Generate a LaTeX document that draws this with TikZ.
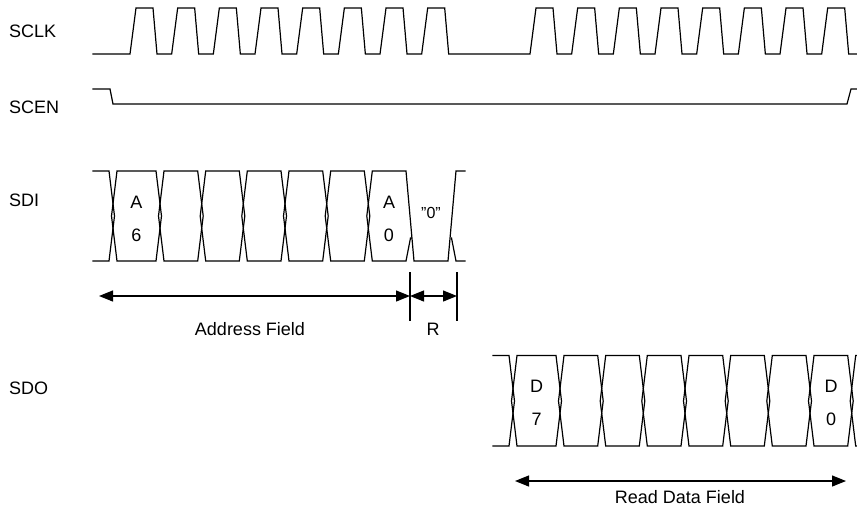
\documentclass[tikz,border=0pt]{standalone}
\usepackage{fontspec}
\setmainfont{Liberation Sans}
\usetikzlibrary{arrows.meta}
\tikzstyle{wave}     = [line width=1.2pt, line join=miter, line cap=rect]
\tikzstyle{signame}  = [anchor=west, inner sep=0pt, font=\fontsize{18}{20}\selectfont]
\tikzstyle{celltext} = [align=center, inner sep=0pt, font=\fontsize{18}{33}\selectfont]
\tikzstyle{fieldtxt} = [inner sep=0pt, font=\fontsize{18}{20}\selectfont]
\tikzstyle{dimarrow} = [{Stealth[length=14pt,width=11pt,inset=0pt]}-{Stealth[length=14pt,width=11pt,inset=0pt]}, line width=1.2pt]

\begin{document}
\begin{tikzpicture}[x=1pt, y=-1pt]
  \useasboundingbox (0,0) rectangle (857,512);

  % signal names
  \node (sclk) [signame] at (9,31)  {SCLK};
  \node (scen) [signame] at (9,107) {SCEN};
  \node (sdi)  [signame] at (9,200) {SDI};
  \node (sdo)  [signame] at (9,388) {SDO};

  % SCLK, two bursts of 8
  \draw [wave] (93,54)
    foreach \k in {0,...,7} { -- ({130+41.67*\k},54) -- ({136+41.67*\k},8) -- ({153+41.67*\k},8) -- ({157+41.67*\k},54) }
    -- (530,54)
    foreach \k in {0,...,7} { -- ({530+41.67*\k},54) -- ({536+41.67*\k},8) -- ({553+41.67*\k},8) -- ({557+41.67*\k},54) }
    -- (857,54);

  % SCEN
  \draw [wave] (93,89) -- (110,89) -- (113,104) -- (847,104) -- (851,89) -- (857,89);

  % SDI
  \draw [wave] (93,171) -- (109,171) -- (114.5,216) -- (109,261) -- (93,261);
  \foreach \a/\b in {113/160, 160/201.7, 201.7/243.3, 243.3/285, 285/326.7, 326.7/368.3}
    \draw [wave] (\a+4,171) -- (\b-4,171) -- (\b+1.5,216) -- (\b-4,261) -- (\a+4,261) -- (\a-1.5,216) -- cycle;
  \draw [wave] (410.5,238) -- (406,261) -- (372.3,261) -- (366.8,216) -- (372.3,171) -- (406,171) -- (414,261) -- (448,261) -- (456,171) -- (465,171);
  \draw [wave] (451.5,238) -- (456,261) -- (465,261);
  \node (a6)   [celltext] at (136.5,219) {A\\6};
  \node (a0)   [celltext] at (389,219)   {A\\0};
  \node (zero) [fieldtxt, font=\fontsize{16}{18}\selectfont] at (431,213) {”0”};

  % address / R field
  \coordinate (af-l) at (99,296);
  \coordinate (af-r) at (410,296);
  \coordinate (r-r)  at (457,296);
  \coordinate (r-lt) at (410,273);
  \coordinate (r-lb) at (410,320);
  \coordinate (r-rt) at (457,273);
  \coordinate (r-rb) at (457,320);
  \draw [wave] (r-lt) -- (r-lb);
  \draw [wave] (r-rt) -- (r-rb);
  \draw [dimarrow] (af-l) -- (af-r);
  \draw [dimarrow] (af-r) -- (r-r);
  \node (addrlbl) [fieldtxt] at (250,329) {Address Field};
  \node (rlbl)    [fieldtxt] at (433,329) {R};

  % SDO
  \draw [wave] (493,355.5) -- (509,355.5) -- (514.5,401) -- (509,446) -- (493,446);
  \foreach \a/\b in {513/560, 560/601.7, 601.7/643.3, 643.3/685, 685/726.7, 726.7/768.3, 768.3/810, 810/851.7}
    \draw [wave] (\a+4,355.5) -- (\b-4,355.5) -- (\b+1.5,401) -- (\b-4,446) -- (\a+4,446) -- (\a-1.5,401) -- cycle;
  \draw [wave] (857,355.5) -- (855.7,355.5) -- (850.2,401) -- (855.7,446) -- (857,446);
  \node (d7) [celltext] at (536.5,403) {D\\7};
  \node (d0) [celltext] at (831,403)   {D\\0};

  % read data field
  \coordinate (rd-l) at (515,481);
  \coordinate (rd-r) at (846,481);
  \draw [dimarrow] (rd-l) -- (rd-r);
  \node (readlbl) [fieldtxt] at (680,497) {Read Data Field};
\end{tikzpicture}
\end{document}
